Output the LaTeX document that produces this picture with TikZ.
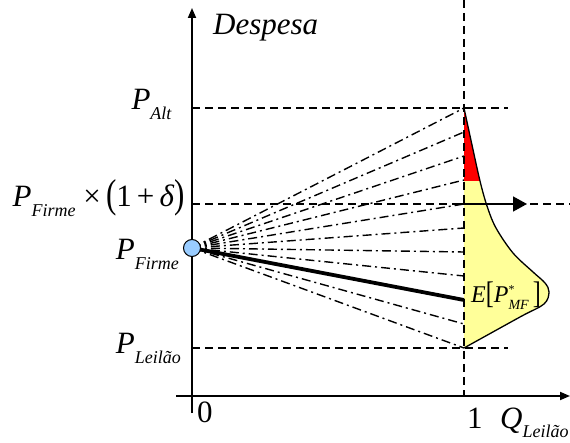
\documentclass[tikz,border=0pt]{standalone}
\usepackage{fontspec}
\setmainfont{Liberation Serif}
\usepackage{graphicx}
\usepackage{xcolor}
\usetikzlibrary{arrows.meta}

\definecolor{firmblue}{RGB}{153,204,255}
\definecolor{distyellow}{RGB}{255,255,153}

% price with lowered subscript
\newcommand{\pricelab}[2]{\textit{#1}\raisebox{-10pt}{\fontsize{18}{18}\selectfont\textit{#2}}}
% tall delimiter
\newcommand{\talldelim}[1]{\raisebox{-1pt}{\scalebox{1}[1.3]{#1}}}

\tikzset{
  guide/.style={dash pattern=on 8pt off 5pt,line width=1.3pt},
  fanline/.style={dash pattern=on 9pt off 4pt on 2pt off 4pt,line width=1.4pt},
  axis/.style={line width=1.8pt,-{Triangle[length=10pt,width=8pt]}},
  lab/.style={font=\fontsize{31}{34}\selectfont,inner sep=0pt},
}

\begin{document}
\begin{tikzpicture}[x=1pt,y=-1pt]
        \useasboundingbox (0,0) rectangle (570,443);
        % Distribution of the spot price
        \def\distcurve{plot[smooth,tension=0.55] coordinates {(464,108) (472,145) (480,181) (487,206) (496,228) (513,253) (533,272) (545,283) (549,292) (544,304) (520,317) (464,348)}}
        \fill[distyellow] \distcurve -- cycle;
        \begin{scope}
          \clip (455,100) rectangle (560,181);
          \fill[red] \distcurve -- cycle;
        \end{scope}
        \draw[line width=1.3pt] \distcurve;
        % Reference points
        \coordinate (altL) at (192,108);
        \coordinate (altR) at (508,108);
        \coordinate (deltaL) at (192,204);
        \coordinate (deltaR) at (570,204);
        \coordinate (leilL) at (192,348);
        \coordinate (leilR) at (508,348);
        \coordinate (oneT) at (464,0);
        \coordinate (oneB) at (464,396);
        \draw[guide] (altL) -- (altR);
        \draw[guide] (deltaL) -- (deltaR);
        \draw[guide] (leilL) -- (leilR);
        \draw[guide] (oneT) -- (oneB);
        % Firm contract
        \coordinate (firme) at (192,248);
        \foreach \y [count=\i] in {108,132,...,348}
          \coordinate (f\i) at (464,\y);
        \foreach \i in {1,...,8,10,11}
          \draw[fanline] (firme) -- (f\i);
        \coordinate (emf) at (464,300);
        \draw[line width=3.8pt] (firme) -- (emf);
        % Axes
        \coordinate (xa) at (176,396);
        \coordinate (xb) at (570,396);
        \coordinate (ya) at (192,413);
        \coordinate (yb) at (192,8);
        \draw[axis] (xa) -- (xb);
        \draw[axis] (ya) -- (yb);
        \node[circle,draw,fill=firmblue,line width=1pt,minimum size=17pt,inner sep=0pt] (dot) at (firme) {};
        % Exercise arrow
        \coordinate (arrS) at (455,204);
        \coordinate (arrE) at (527,204);
        \draw[line width=1.5pt,-{Triangle[length=14pt,width=15pt]}] (arrS) -- (arrE);
        % Labels
        \node[lab,anchor=base west] (desp) at (213,35) {\textit{Despesa}};
        \node[lab,anchor=base east] (palt) at (172,110) {\pricelab{P}{Alt}};
        \node[lab,anchor=base east] (pdelta) at (185,207) {\pricelab{P}{Firme}\ ×\,\talldelim{(}1\,+\,\textit{δ}\talldelim{)}};
        \node[lab,anchor=base east] (pfirme) at (179,260) {\pricelab{P}{Firme}};
        \node[lab,anchor=base east] (pleil) at (181,353) {\pricelab{P}{Leilão}};
        \node[lab,anchor=base west] (zero) at (197,422) {0};
        \node[lab,anchor=base west] (one) at (467,428) {1};
        \node[lab,anchor=base west] (qleil) at (500,428) {\textit{Q}\raisebox{-9pt}{\fontsize{18}{18}\selectfont\textit{Leilão}}};
        \node[inner sep=0pt,anchor=base west,font=\fontsize{24}{26}\selectfont] (elab) at (471,303)
          {\textit{E}\talldelim{[}\textit{P}\rlap{\raisebox{9pt}{\fontsize{12}{12}\selectfont *}}\raisebox{-7pt}{\fontsize{14}{14}\selectfont\textit{MF}}\,\talldelim{]}};
\end{tikzpicture}
\end{document}
